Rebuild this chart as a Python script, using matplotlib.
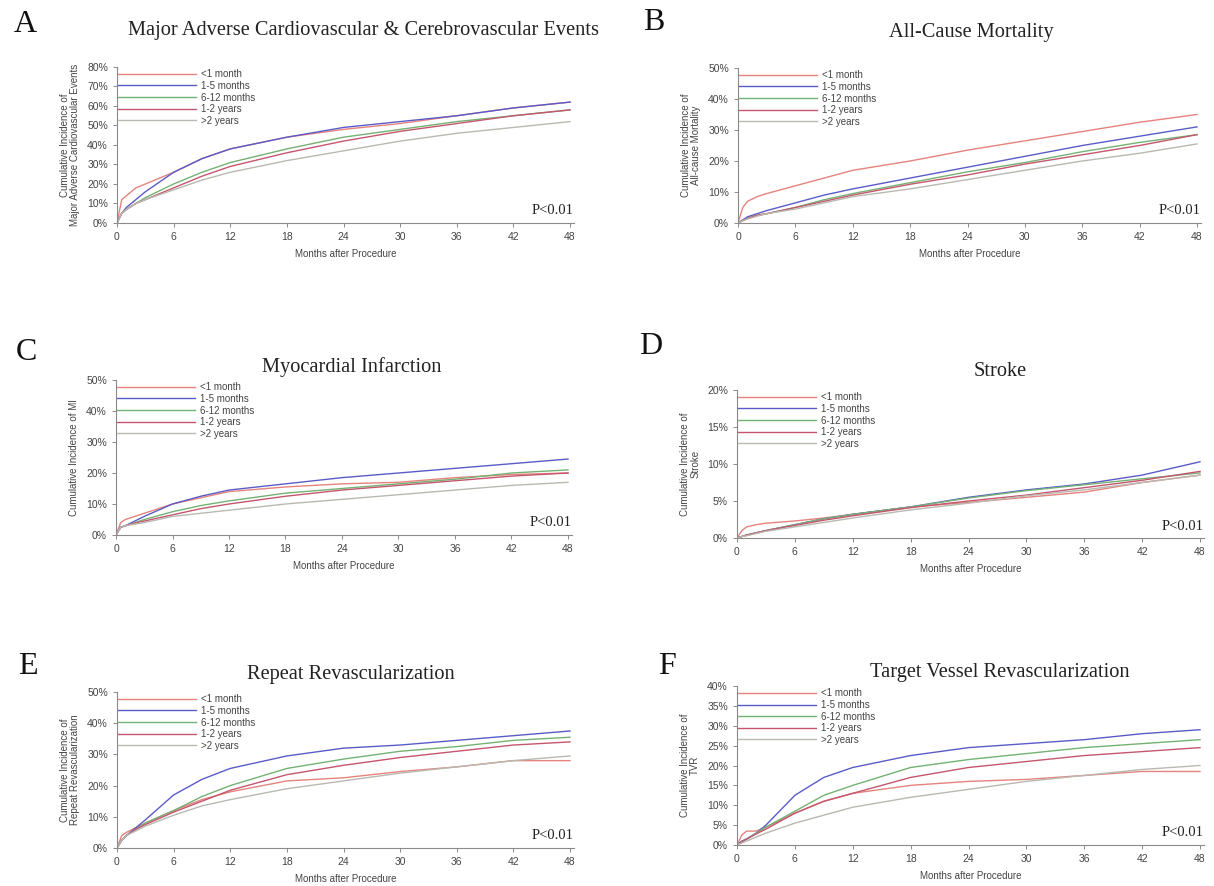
import matplotlib
matplotlib.use("Agg")
import matplotlib.pyplot as plt
from matplotlib.ticker import PercentFormatter

plt.rcParams["font.family"] = ["Liberation Sans", "DejaVu Sans"]

months = [0, 0.5, 1, 2, 3, 6, 9, 12, 18, 24, 30, 36, 42, 48]
groups = ["<1 month", "1-5 months", "6-12 months", "1-2 years", ">2 years"]
colors = ["#e5837d", "#5b5bc8", "#74b274", "#c4566e", "#b9b9b2"]

# cumulative incidence (%) per group, read at the months above
macce = [
    [0, 12, 14, 18, 20, 26, 33, 38, 44, 48, 51, 55, 59, 62],
    [0, 5, 8, 12, 16, 26, 33, 38, 44, 49, 52, 55, 59, 62],
    [0, 5, 7, 10, 13, 20, 26, 31, 38, 44, 48, 52, 55, 58],
    [0, 5, 7, 10, 12, 18, 24, 29, 36, 42, 47, 51, 55, 58],
    [0, 5, 7, 10, 12, 17, 22, 26, 32, 37, 42, 46, 49, 52],
]
mortality = [
    [0, 5, 7, 8.5, 9.5, 12, 14.5, 17, 20, 23.5, 26.5, 29.5, 32.5, 35],
    [0, 1, 2, 3, 4, 6.5, 9, 11, 14.5, 18, 21.5, 25, 28, 31],
    [0, 0.8, 1.5, 2.5, 3, 5, 7.5, 9.5, 13, 16.5, 19.5, 23, 26, 28.5],
    [0, 0.8, 1.5, 2.5, 3, 5, 7, 9, 12.5, 15.5, 19, 22, 25, 28.5],
    [0, 0.7, 1.3, 2.2, 3, 4.5, 6.5, 8.5, 11, 14, 17, 20, 22.5, 25.5],
]
mi = [
    [0, 4, 5, 6, 7, 10, 12, 14, 15.5, 16.5, 17, 18.5, 19.5, 20],
    [0, 2.5, 3, 4.5, 6, 10, 12.5, 14.5, 16.5, 18.5, 20, 21.5, 23, 24.5],
    [0, 2.5, 3, 4, 5, 7.5, 9.5, 11, 13.5, 15, 16.5, 18, 20, 21],
    [0, 2.5, 3, 3.8, 4.5, 6.5, 8.5, 10, 12.5, 14.5, 16, 17.5, 19, 20],
    [0, 2.5, 3, 3.5, 4, 6, 7, 8, 10, 11.5, 13, 14.5, 16, 17],
]
stroke = [
    [0, 1, 1.5, 1.8, 2, 2.3, 2.7, 3.2, 4.2, 4.8, 5.5, 6.2, 7.5, 8.5],
    [0, 0.2, 0.4, 0.7, 1, 1.8, 2.6, 3.2, 4.2, 5.5, 6.5, 7.3, 8.5, 10.3],
    [0, 0.2, 0.4, 0.7, 1, 1.8, 2.6, 3.2, 4.2, 5.4, 6.4, 7.2, 8.0, 8.8],
    [0, 0.2, 0.4, 0.7, 1, 1.7, 2.4, 3.0, 4.1, 5.0, 5.8, 6.8, 7.8, 9.0],
    [0, 0.2, 0.3, 0.6, 0.9, 1.5, 2.1, 2.7, 3.8, 4.7, 5.7, 6.5, 7.5, 8.5],
]
revasc = [
    [0, 4, 5, 6.5, 8, 12, 15.5, 18, 21.5, 22.5, 24.5, 26, 28, 28],
    [0, 2.5, 4, 6.5, 9, 17, 22, 25.5, 29.5, 32, 33, 34.5, 36, 37.5],
    [0, 2.5, 4, 6, 8, 12, 16.5, 20, 25.5, 28.5, 31, 32.5, 34.5, 35.5],
    [0, 2.5, 4, 6, 7.5, 11.5, 15, 18.5, 23.5, 26.5, 29, 31, 33, 34],
    [0, 2.5, 4, 5.5, 7, 10.5, 13.5, 15.5, 19, 21.5, 24, 26, 28, 29.5],
]
tvr = [
    [0, 2.5, 3.5, 3.5, 4.5, 8, 11, 13, 15, 16, 16.5, 17.5, 18.5, 18.5],
    [0, 1, 1.5, 3, 5, 12.5, 17, 19.5, 22.5, 24.5, 25.5, 26.5, 28, 29],
    [0, 0.8, 1.5, 3, 4.5, 8.5, 12.5, 15, 19.5, 21.5, 23, 24.5, 25.5, 26.5],
    [0, 0.8, 1.5, 2.8, 4, 8, 11, 13, 17, 19.5, 21, 22.5, 23.5, 24.5],
    [0, 0.5, 1, 2, 3, 5.5, 7.5, 9.5, 12, 14, 16, 17.5, 19, 20],
]

panels = [
    ("A", "Major Adverse Cardiovascular & Cerebrovascular Events",
     "Cumulative Incidence of\nMajor Adverse Cardiovascular Events", macce, 80, 10),
    ("B", "All-Cause Mortality",
     "Cumulative Incidence of\nAll-cause Mortality", mortality, 50, 10),
    ("C", "Myocardial Infarction",
     "Cumulative Incidence of MI", mi, 50, 10),
    ("D", "Stroke",
     "Cumulative Incidence of\nStroke", stroke, 20, 5),
    ("E", "Repeat Revascularization",
     "Cumulative Incidence of\nRepeat Revascularization", revasc, 50, 10),
    ("F", "Target Vessel Revascularization",
     "Cumulative Incidence of\nTVR", tvr, 40, 5),
]

W, H = 1214, 886
# layout in pixels: axes (left, right-at-48, top, bottom), title centre, letter centre
ax_px = [(117, 570, 67, 223), (738, 1197, 68, 223), (116, 568, 380, 535),
         (737, 1200, 390, 538), (117, 570, 692, 848), (737, 1200, 686, 845)]
title_px = [(364, 30), (971, 32), (352, 367), (1000, 372), (351, 675), (1000, 672)]
letter_px = [(25, 25), (654, 23), (26, 352), (651, 347), (28, 666), (667, 666)]
XMAX = 48.4

fig = plt.figure(figsize=(W / 100, H / 100), dpi=100)
tick_col = "#444444"
spine_col = "#8a8a8a"
serif = ["Liberation Serif", "DejaVu Serif"]

for i, (letter, title, ylab, data, ymax, ystep) in enumerate(panels):
    l, r, t, b = ax_px[i]
    ax = fig.add_axes([l / W, 1 - b / H, (r - l) * XMAX / 48 / W, (b - t) / H])
    for g, vals, c in zip(groups, data, colors):
        ax.plot(months, vals, color=c, lw=1.0, label=g)
    ax.set_xlim(0, XMAX)
    ax.set_ylim(0, ymax)
    ax.set_xticks(range(0, 49, 6))
    ax.set_yticks(range(0, ymax + 1, ystep))
    ax.yaxis.set_major_formatter(PercentFormatter(decimals=0))
    for s in ["top", "right"]:
        ax.spines[s].set_visible(False)
    for s in ["left", "bottom"]:
        ax.spines[s].set_color(spine_col)
        ax.spines[s].set_linewidth(0.8)
    ax.tick_params(colors=spine_col, labelcolor=tick_col, labelsize=7.5, length=3, width=0.7)
    ax.set_xlabel("Months after Procedure", fontsize=7, color=tick_col, labelpad=5)
    ax.set_ylabel(ylab, fontsize=7, color=tick_col, labelpad=5, linespacing=1.0)
    ax.legend(loc="upper left", frameon=False, fontsize=7, handlelength=8,
              handletextpad=0.5, labelspacing=0.17, borderaxespad=0, borderpad=0.15,
              bbox_to_anchor=(0.0, 0.995), labelcolor=tick_col)
    ax.text(1.0, 0.08, "P<0.01", transform=ax.transAxes, ha="right", va="center",
            fontsize=10.5, family=serif, color="#222222")
    fig.text(title_px[i][0] / W, 1 - title_px[i][1] / H, title, ha="center", va="center",
             fontsize=14.7, family=serif, color="#222222")
    fig.text(letter_px[i][0] / W, 1 - letter_px[i][1] / H, letter, ha="center", va="center",
             fontsize=23, family=serif, color="#111111")

fig.savefig("out.png", dpi=100, facecolor="white")
